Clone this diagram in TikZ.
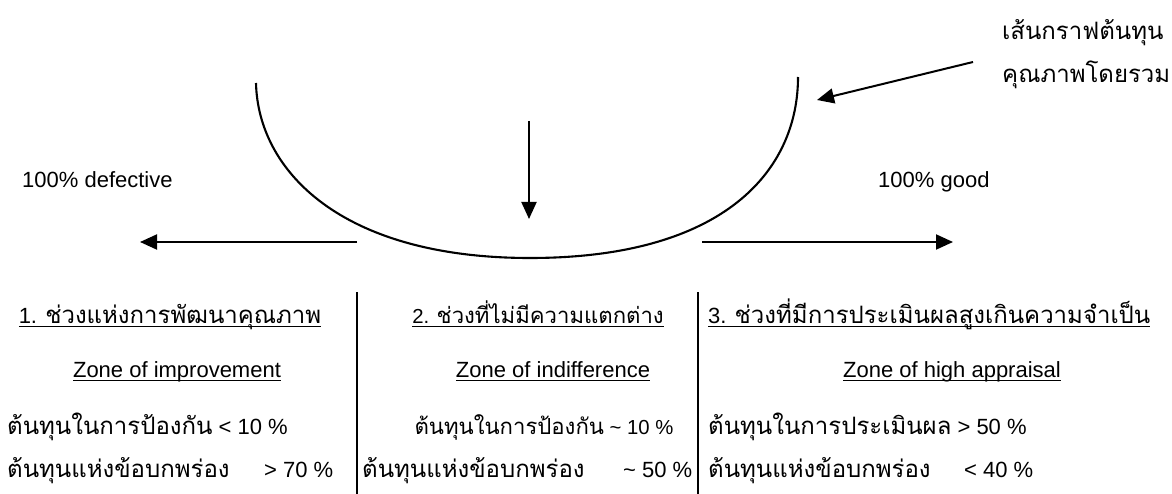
\documentclass[tikz,border=0pt]{standalone}
\usepackage{fontspec}
\setmainfont{Liberation Sans}
\newfontfamily\thaifont[Script=Thai,Scale=1.09]{Loma}
\usetikzlibrary{arrows.meta}

% sublinhado fixo, abaixo da linha de base
\newcommand\undl[1]{\setbox0\hbox{#1}\rlap{\rule[-4pt]{\wd0}{1.5pt}}\box0}

\tikzset{
  linha/.style={line width=2.1pt},
  seta/.style={line width=2pt, -{Triangle[length=17pt,width=15pt]}},
  rotulo/.style={inner sep=0pt, font=\fontsize{22}{26}\selectfont},
  estreito/.style={rotulo, font=\fontsize{20.3}{24}\selectfont},
  divisoria/.style={line width=2.1pt},
}

\begin{document}
\begin{tikzpicture}[x=1pt,y=-1pt]

\useasboundingbox (0,0) rectangle (1172,494);

% CURVA
\coordinate (curvaE) at (256,83);
\coordinate (fundo) at (530,258);
\coordinate (curvaD) at (798,77);

\draw[linha]
(curvaE)
.. controls (258,170) and (340,258) ..
(fundo)
.. controls (725,258) and (798,170) ..
(curvaD);

% LEGENDA
\node[rotulo, anchor=base west] (legenda1) at (1002,40)
{\thaifont เส้นกราฟต้นทุน};
\node[rotulo, anchor=base west] (legenda2) at (1002,83)
{\thaifont คุณภาพโดยรวม};

\coordinate (ponteiro) at (973,62);
\coordinate (alvo) at (817,100);
\draw[seta] (ponteiro) -- (alvo);

% SETAS
\coordinate (topo) at (529,121);
\coordinate (centro) at (529,219);
\draw[seta] (topo) -- (centro);

\coordinate (esqA) at (357,242);
\coordinate (esqB) at (140,242);
\draw[seta] (esqA) -- (esqB);

\coordinate (dirA) at (702,242);
\coordinate (dirB) at (953,242);
\draw[seta] (dirA) -- (dirB);

\node[rotulo, anchor=base west] (defeito) at (22,188) {100\% defective};
\node[rotulo, anchor=base west] (bom) at (878,188) {100\% good};

% DIVISORIAS
\coordinate (div1a) at (357,292);
\coordinate (div1b) at (357,494);
\coordinate (div2a) at (698,292);
\coordinate (div2b) at (698,494);
\draw[divisoria] (div1a) -- (div1b);
\draw[divisoria] (div2a) -- (div2b);

% COLUNA 1
\node[rotulo, anchor=base] (titulo1) at (170,323)
{\undl{1. {\thaifont ช่วงแห่งการพัฒนาคุณภาพ}}};
\node[rotulo, anchor=base] (zona1) at (177,377)
{\undl{Zone of improvement}};
\node[rotulo, anchor=base west] (custoA1) at (7,434)
{{\thaifont ต้นทุนในการป้องกัน} < 10 \%};
\node[rotulo, anchor=base west] (custoB1) at (7,477)
{\makebox[326pt][s]{{\thaifont ต้นทุนแห่งข้อบกพร่อง}\hfill> 70 \%}};

% COLUNA 2
\node[estreito, anchor=base] (titulo2) at (538,323)
{\undl{2. {\thaifont ช่วงที่ไม่มีความแตกต่าง}}};
\node[rotulo, anchor=base] (zona2) at (553,377)
{\undl{Zone of indifference}};
\node[estreito, anchor=base] (custoA2) at (544,434)
{{\thaifont ต้นทุนในการป้องกัน} \textasciitilde{} 10 \%};
\node[rotulo, anchor=base west] (custoB2) at (362,477)
{\makebox[330pt][s]{{\thaifont ต้นทุนแห่งข้อบกพร่อง}\hfill\textasciitilde{} 50 \%}};

% COLUNA 3
\node[rotulo, anchor=base west] (titulo3) at (708,323)
{\undl{3. {\thaifont ช่วงที่มีการประเมินผลสูงเกินความจำเป็น}}};
\node[rotulo, anchor=base] (zona3) at (952,377)
{\undl{Zone of high appraisal}};
\node[rotulo, anchor=base west] (custoA3) at (708,434)
{{\thaifont ต้นทุนในการประเมินผล} > 50 \%};
\node[rotulo, anchor=base west] (custoB3) at (708,477)
{\makebox[325pt][s]{{\thaifont ต้นทุนแห่งข้อบกพร่อง}\hfill< 40 \%}};

\end{tikzpicture}
\end{document}
